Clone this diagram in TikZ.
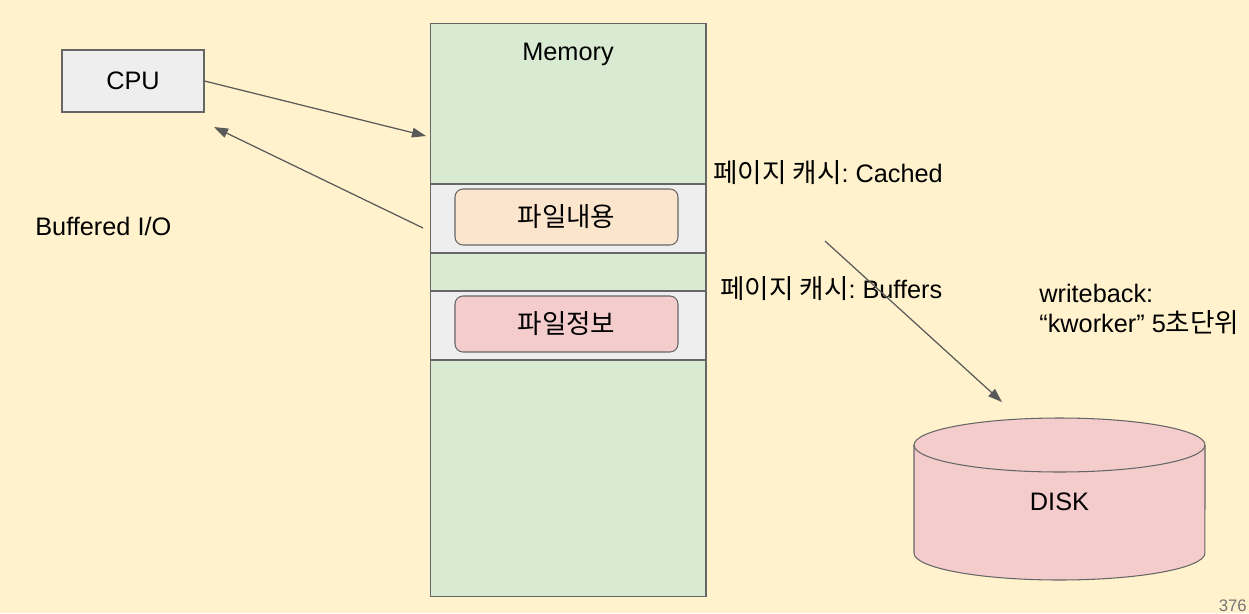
\documentclass[tikz,border=0pt]{standalone}
\usepackage{fontspec}
\setmainfont{Liberation Sans}
\newfontfamily\kr[Scale=1.05]{Noto Sans CJK KR}
\usetikzlibrary{arrows.meta}
\frenchspacing
\definecolor{bgyellow}{HTML}{FFF2CC}
\definecolor{memgreen}{HTML}{D9EAD3}
\definecolor{bandgray}{HTML}{EEEEEE}
\definecolor{filepeach}{HTML}{FCE5CD}
\definecolor{filepink}{HTML}{F4CCCC}
\definecolor{edgegray}{HTML}{666666}
\definecolor{arrowgray}{HTML}{595959}
\definecolor{pagegray}{HTML}{757575}
\tikzset{
  box/.style={draw=edgegray, line width=0.6pt, inner sep=0pt},
  filebox/.style={box, rounded corners=0.16cm, minimum width=4.46cm, minimum height=1.12cm},
  band/.style={box, fill=bandgray, minimum width=5.52cm, minimum height=1.38cm},
  link/.style={draw=arrowgray, line width=0.7pt, -{Triangle[length=8pt,width=5.5pt]}},
  lbl/.style={inner sep=0pt, anchor=base west},
}
\begin{document}
\begin{tikzpicture}[x=0.02cm,y=-0.02cm,font=\fontsize{14.4}{17}\selectfont]
\fill[bgyellow] (0,0) rectangle (1249,613);
\useasboundingbox (0,0) rectangle (1249,613);
% memory
\draw  (568,310) node[box, fill=memgreen, minimum width=5.52cm, minimum height=11.48cm] (mem) {};
\draw  (568,60) node[inner sep=0pt, anchor=base] (memlabel) {Memory};
\draw  (568,218.5) node[band] (band1) {};
\draw  (568,325.5) node[band] (band2) {};
\draw  (566.5,217) node[filebox, fill=filepeach] (content) {\kr 파일내용};
\draw  (566.5,324) node[filebox, fill=filepink] (info) {\kr 파일정보};
% cpu
\draw  (133,81) node[box, fill=bandgray, minimum width=2.84cm, minimum height=1.24cm] (cpu) {CPU};
\draw  (35,235.5) node[lbl] (bio) {Buffered I/O};
\coordinate (memin) at (426,136);
\coordinate (memout) at (423,228);
\coordinate (cpuin) at (214,127);
\draw [link] (cpu.east) -- (memin);
\draw [link] (memout) -- (cpuin);
% page cache labels
\draw  (713,182) node[lbl] (cached) {{\kr 페이지 캐시}: Cached};
\draw  (720,298) node[lbl] (buffers) {{\kr 페이지 캐시}: Buffers};
\draw  (1039,332) node[lbl, align=left] (wb) {writeback:\\“kworker” 5{\kr 초단위}};
% disk
\filldraw [fill=filepink, draw=edgegray, line width=0.6pt] (914,445) -- (914,553)
  arc[start angle=180, end angle=360, x radius=2.91cm, y radius=0.54cm] -- (1205,445)
  arc[start angle=0, end angle=180, x radius=2.91cm, y radius=0.54cm] -- cycle;
\draw [draw=edgegray, line width=0.6pt] (914,445)
  arc[start angle=180, end angle=360, x radius=2.91cm, y radius=0.54cm];
\draw  (1059.5,510) node[inner sep=0pt, anchor=base] (disk) {DISK};
\coordinate (flushfrom) at (825,241);
\coordinate (flushto) at (1002,402);
\draw [link] (flushfrom) -- (flushto);
\draw  (1247,611) node[inner sep=0pt, anchor=base east, text=pagegray, font=\fontsize{9.5}{11}\selectfont] (pageno) {376};
\end{tikzpicture}
\end{document}
